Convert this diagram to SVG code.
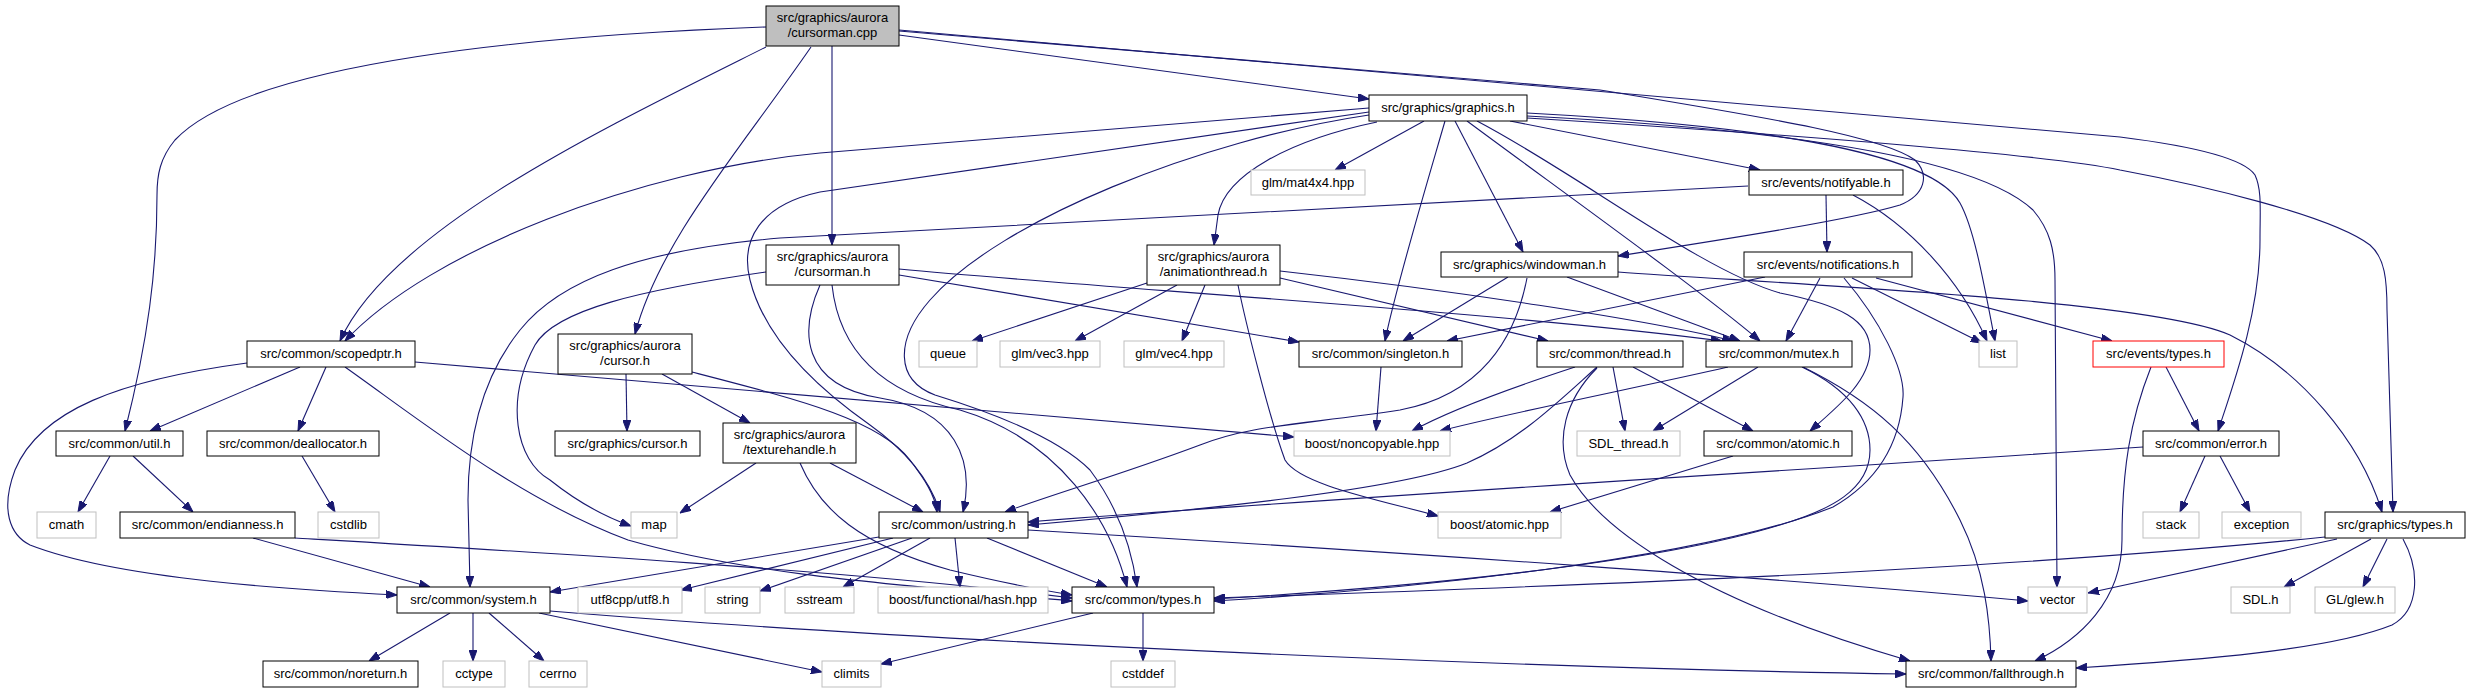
<svg xmlns="http://www.w3.org/2000/svg" width="2471" height="693" viewBox="0 0 2471 693">
<style>
.e{fill:none;stroke:#191970;stroke-width:1.1;marker-end:url(#ah)}
rect{fill:#ffffff;stroke:#000000;stroke-width:1}
.x rect{stroke:#bfbfbf}
.r rect{fill:#bfbfbf;stroke:#000000}
.t rect{stroke:#ff0000}
text{font-family:"Liberation Sans",Arial,Helvetica,sans-serif;font-size:13px;text-anchor:middle;fill:#000000}
</style>
<defs>
<marker id="ah" markerWidth="11" markerHeight="8" refX="11" refY="4" orient="auto" markerUnits="userSpaceOnUse">
<path d="M0,0 L11,4 L0,8 z" fill="#191970" stroke="#191970" stroke-width="1"/>
</marker>
</defs>
<rect x="0" y="0" width="2471" height="693" style="fill:#ffffff;stroke:none"/>
<g id="edges">
<path class="e" d="M766,27 C550,35 250,60 175,140 C160,158 157,175 157,195 C157,270 148,340 125,431"/>
<path class="e" d="M766,47 C600,130 390,230 340,341"/>
<path class="e" d="M811,47 C740,150 660,240 635,334"/>
<path class="e" d="M832,46 L832,245"/>
<path class="e" d="M899,35 L1369,99"/>
<path class="e" d="M899,30 L2120,137 C2200,147 2245,160 2255,175 C2262,190 2260,210 2260,240 C2260,310 2235,380 2218,431"/>
<path class="e" d="M899,31 L1600,90 C1750,115 1880,135 1915,160 C1930,175 1925,195 1900,205 C1850,220 1720,240 1618,256"/>
<path class="e" d="M1369,108 L820,153 C640,170 430,250 345,341"/>
<path class="e" d="M1369,112 L820,192 C760,205 740,240 750,280 C765,340 820,390 870,425 C905,450 930,480 940,512"/>
<path class="e" d="M1369,115 C1200,140 1000,220 930,300 C895,340 895,380 935,395 C1000,415 1060,440 1090,470 C1120,510 1132,550 1137,587"/>
<path class="e" d="M1424,121 L1335,170"/>
<path class="e" d="M1445,121 C1425,190 1395,290 1385,341"/>
<path class="e" d="M1455,121 L1523,252"/>
<path class="e" d="M1467,121 C1560,190 1700,290 1760,341"/>
<path class="e" d="M1477,121 C1580,175 1700,270 1780,293 C1840,305 1870,320 1870,350 C1870,380 1840,405 1810,431"/>
<path class="e" d="M1510,121 L1760,170"/>
<path class="e" d="M1527,113 C1750,125 1930,150 1960,203 C1975,230 1985,290 1995,341"/>
<path class="e" d="M1527,116 C1800,130 1980,160 2033,210 C2050,230 2055,250 2055,280 L2057,587"/>
<path class="e" d="M1527,118 C1800,135 2050,155 2120,170 C2200,185 2330,215 2370,245 C2385,258 2387,280 2387,310 L2393,512"/>
<path class="e" d="M1377,122 C1290,140 1225,175 1218,215 L1214,245"/>
<path class="e" d="M766,272 C640,290 555,310 535,345 C505,400 515,460 550,480 C575,500 600,515 631,526"/>
<path class="e" d="M820,285 C800,330 800,385 880,398 C955,410 975,460 963,512"/>
<path class="e" d="M832,285 C838,340 870,390 960,410 C1060,440 1110,520 1127,587"/>
<path class="e" d="M899,275 L1299,342"/>
<path class="e" d="M899,269 C1100,288 1500,312 1722,341"/>
<path class="e" d="M1147,283 L972,341"/>
<path class="e" d="M1177,285 L1075,341"/>
<path class="e" d="M1205,285 L1182,341"/>
<path class="e" d="M1238,285 C1245,320 1270,420 1285,460 C1300,485 1380,500 1438,516"/>
<path class="e" d="M1280,271 C1450,290 1650,320 1733,341"/>
<path class="e" d="M1280,278 L1548,341"/>
<path class="e" d="M1508,277 L1403,341"/>
<path class="e" d="M1527,278 C1515,340 1480,395 1400,410 C1300,425 1250,425 1200,445 C1120,475 1050,495 1005,512"/>
<path class="e" d="M1567,277 L1740,341"/>
<path class="e" d="M1618,272 C1800,285 2150,300 2230,335 C2300,370 2360,440 2382,512"/>
<path class="e" d="M1748,186 L780,238 C640,250 560,280 520,330 C480,380 468,440 468,500 L470,587"/>
<path class="e" d="M1826,195 L1827,252"/>
<path class="e" d="M1853,195 C1910,225 1960,280 1987,341"/>
<path class="e" d="M1765,277 L1447,341"/>
<path class="e" d="M1820,278 L1786,341"/>
<path class="e" d="M1844,278 C1880,320 1905,370 1903,397 C1900,440 1880,480 1833,507 C1700,560 1400,590 1214,601"/>
<path class="e" d="M1852,278 L1982,343"/>
<path class="e" d="M1876,278 L2112,341"/>
<path class="e" d="M2166,367 L2199,431"/>
<path class="e" d="M2151,367 C2130,420 2122,470 2122,540 C2122,600 2080,640 2035,661"/>
<path class="e" d="M2205,456 L2180,512"/>
<path class="e" d="M2220,456 L2250,512"/>
<path class="e" d="M2143,447 C1800,470 1300,500 1028,522"/>
<path class="e" d="M2325,537 C2000,570 1600,585 1214,598"/>
<path class="e" d="M2337,539 L2088,593"/>
<path class="e" d="M2371,539 L2284,587"/>
<path class="e" d="M2387,539 L2363,587"/>
<path class="e" d="M2403,539 C2420,570 2420,610 2392,625 C2330,650 2200,660 2076,668"/>
<path class="e" d="M1381,367 L1376,431"/>
<path class="e" d="M1575,367 C1520,385 1450,410 1412,431"/>
<path class="e" d="M1597,367 C1560,400 1520,440 1467,463 C1400,490 1200,510 1028,525"/>
<path class="e" d="M1597,368 C1565,400 1555,440 1570,475 C1600,530 1700,600 1910,661"/>
<path class="e" d="M1613,367 L1625,431"/>
<path class="e" d="M1633,367 L1753,431"/>
<path class="e" d="M1728,367 C1650,385 1500,415 1440,431"/>
<path class="e" d="M1758,367 L1653,431"/>
<path class="e" d="M1802,367 C1850,390 1870,420 1870,450 C1870,490 1830,510 1780,525 C1650,565 1400,588 1214,599"/>
<path class="e" d="M1803,367 C1870,400 1920,440 1960,520 C1985,570 1990,620 1991,661"/>
<path class="e" d="M1733,456 L1550,512"/>
<path class="e" d="M247,363 C120,380 40,410 15,470 C0,510 10,535 30,545 C120,580 300,590 397,595"/>
<path class="e" d="M300,367 L150,431"/>
<path class="e" d="M326,367 L298,431"/>
<path class="e" d="M345,367 C420,420 520,500 628,540 C750,575 900,585 1072,601"/>
<path class="e" d="M415,362 L1294,437"/>
<path class="e" d="M626,374 L627,431"/>
<path class="e" d="M662,374 L750,423"/>
<path class="e" d="M692,372 C800,400 880,420 910,460 C925,480 935,495 937,512"/>
<path class="e" d="M756,463 L680,513"/>
<path class="e" d="M830,463 L923,512"/>
<path class="e" d="M800,463 C820,510 860,545 950,570 C1000,582 1040,590 1072,595"/>
<path class="e" d="M110,456 L78,512"/>
<path class="e" d="M133,456 L193,512"/>
<path class="e" d="M302,456 L335,512"/>
<path class="e" d="M253,538 L430,587"/>
<path class="e" d="M295,538 C500,550 850,570 1072,598"/>
<path class="e" d="M879,537 L550,592"/>
<path class="e" d="M893,538 L681,590"/>
<path class="e" d="M912,538 L760,591"/>
<path class="e" d="M930,538 L843,587"/>
<path class="e" d="M955,538 L960,587"/>
<path class="e" d="M987,538 L1107,587"/>
<path class="e" d="M1028,530 C1400,552 1800,580 2028,601"/>
<path class="e" d="M450,613 L369,661"/>
<path class="e" d="M473,613 L473,661"/>
<path class="e" d="M489,613 L544,661"/>
<path class="e" d="M539,613 L822,672"/>
<path class="e" d="M550,611 C900,640 1500,668 1906,674"/>
<path class="e" d="M1093,613 L881,664"/>
<path class="e" d="M1143,613 L1143,661"/>
</g>
<g id="node-root" class="r"><rect x="766" y="6" width="133" height="40"/><text x="832.5" y="21.5">src/graphics/aurora</text><text x="832.5" y="36.5">/cursorman.cpp</text></g>
<g id="node-graphics"><rect x="1369" y="95" width="158" height="26"/><text x="1448" y="112">src/graphics/graphics.h</text></g>
<g id="node-mat4x4" class="x"><rect x="1251" y="170" width="114" height="25"/><text x="1308" y="186.5">glm/mat4x4.hpp</text></g>
<g id="node-cursorman-h"><rect x="766" y="245" width="133" height="40"/><text x="832.5" y="260.5">src/graphics/aurora</text><text x="832.5" y="275.5">/cursorman.h</text></g>
<g id="node-animationthread"><rect x="1147" y="245" width="133" height="40"/><text x="1213.5" y="260.5">src/graphics/aurora</text><text x="1213.5" y="275.5">/animationthread.h</text></g>
<g id="node-windowman"><rect x="1441" y="252" width="177" height="25"/><text x="1529.5" y="268.5">src/graphics/windowman.h</text></g>
<g id="node-notifyable"><rect x="1749" y="170" width="154" height="25"/><text x="1826" y="186.5">src/events/notifyable.h</text></g>
<g id="node-notifications"><rect x="1744" y="252" width="168" height="25"/><text x="1828" y="268.5">src/events/notifications.h</text></g>
<g id="node-scopedptr"><rect x="247" y="341" width="168" height="26"/><text x="331" y="358">src/common/scopedptr.h</text></g>
<g id="node-aurora-cursor"><rect x="558" y="334" width="134" height="40"/><text x="625" y="349.5">src/graphics/aurora</text><text x="625" y="364.5">/cursor.h</text></g>
<g id="node-queue" class="x"><rect x="919" y="341" width="58" height="26"/><text x="948" y="358">queue</text></g>
<g id="node-vec3" class="x"><rect x="1000" y="341" width="100" height="26"/><text x="1050" y="358">glm/vec3.hpp</text></g>
<g id="node-vec4" class="x"><rect x="1124" y="341" width="100" height="26"/><text x="1174" y="358">glm/vec4.hpp</text></g>
<g id="node-singleton"><rect x="1299" y="341" width="163" height="26"/><text x="1380.5" y="358">src/common/singleton.h</text></g>
<g id="node-thread"><rect x="1537" y="341" width="146" height="26"/><text x="1610" y="358">src/common/thread.h</text></g>
<g id="node-mutex"><rect x="1706" y="341" width="146" height="26"/><text x="1779" y="358">src/common/mutex.h</text></g>
<g id="node-list" class="x"><rect x="1979" y="341" width="38" height="26"/><text x="1998" y="358">list</text></g>
<g id="node-events-types" class="t"><rect x="2093" y="341" width="131" height="26"/><text x="2158.5" y="358">src/events/types.h</text></g>
<g id="node-util"><rect x="56" y="431" width="127" height="25"/><text x="119.5" y="447.5">src/common/util.h</text></g>
<g id="node-deallocator"><rect x="207" y="431" width="172" height="25"/><text x="293" y="447.5">src/common/deallocator.h</text></g>
<g id="node-graphics-cursor"><rect x="555" y="431" width="145" height="25"/><text x="627.5" y="447.5">src/graphics/cursor.h</text></g>
<g id="node-texturehandle"><rect x="723" y="423" width="133" height="40"/><text x="789.5" y="438.5">src/graphics/aurora</text><text x="789.5" y="453.5">/texturehandle.h</text></g>
<g id="node-noncopyable" class="x"><rect x="1294" y="431" width="156" height="25"/><text x="1372" y="447.5">boost/noncopyable.hpp</text></g>
<g id="node-sdl-thread" class="x"><rect x="1577" y="431" width="103" height="25"/><text x="1628.5" y="447.5">SDL_thread.h</text></g>
<g id="node-atomic"><rect x="1704" y="431" width="148" height="25"/><text x="1778" y="447.5">src/common/atomic.h</text></g>
<g id="node-error"><rect x="2143" y="431" width="136" height="25"/><text x="2211" y="447.5">src/common/error.h</text></g>
<g id="node-cmath" class="x"><rect x="37" y="512" width="59" height="26"/><text x="66.5" y="529">cmath</text></g>
<g id="node-endianness"><rect x="120" y="512" width="175" height="26"/><text x="207.5" y="529">src/common/endianness.h</text></g>
<g id="node-cstdlib" class="x"><rect x="318" y="512" width="61" height="26"/><text x="348.5" y="529">cstdlib</text></g>
<g id="node-map" class="x"><rect x="631" y="512" width="46" height="26"/><text x="654" y="529">map</text></g>
<g id="node-ustring"><rect x="879" y="512" width="149" height="26"/><text x="953.5" y="529">src/common/ustring.h</text></g>
<g id="node-boost-atomic" class="x"><rect x="1438" y="512" width="123" height="26"/><text x="1499.5" y="529">boost/atomic.hpp</text></g>
<g id="node-stack" class="x"><rect x="2143" y="512" width="56" height="26"/><text x="2171" y="529">stack</text></g>
<g id="node-exception" class="x"><rect x="2222" y="512" width="79" height="26"/><text x="2261.5" y="529">exception</text></g>
<g id="node-graphics-types"><rect x="2325" y="512" width="140" height="26"/><text x="2395" y="529">src/graphics/types.h</text></g>
<g id="node-system"><rect x="397" y="587" width="153" height="26"/><text x="473.5" y="604">src/common/system.h</text></g>
<g id="node-utf8" class="x"><rect x="578" y="587" width="104" height="26"/><text x="630" y="604">utf8cpp/utf8.h</text></g>
<g id="node-string" class="x"><rect x="705" y="587" width="55" height="26"/><text x="732.5" y="604">string</text></g>
<g id="node-sstream" class="x"><rect x="785" y="587" width="69" height="26"/><text x="819.5" y="604">sstream</text></g>
<g id="node-hash" class="x"><rect x="878" y="587" width="170" height="26"/><text x="963" y="604">boost/functional/hash.hpp</text></g>
<g id="node-types"><rect x="1072" y="587" width="142" height="26"/><text x="1143" y="604">src/common/types.h</text></g>
<g id="node-vector" class="x"><rect x="2028" y="587" width="59" height="26"/><text x="2057.5" y="604">vector</text></g>
<g id="node-sdl" class="x"><rect x="2231" y="587" width="59" height="26"/><text x="2260.5" y="604">SDL.h</text></g>
<g id="node-glew" class="x"><rect x="2315" y="587" width="80" height="26"/><text x="2355" y="604">GL/glew.h</text></g>
<g id="node-noreturn"><rect x="263" y="661" width="155" height="26"/><text x="340.5" y="678">src/common/noreturn.h</text></g>
<g id="node-cctype" class="x"><rect x="443" y="661" width="62" height="26"/><text x="474" y="678">cctype</text></g>
<g id="node-cerrno" class="x"><rect x="529" y="661" width="58" height="26"/><text x="558" y="678">cerrno</text></g>
<g id="node-climits" class="x"><rect x="822" y="661" width="59" height="26"/><text x="851.5" y="678">climits</text></g>
<g id="node-cstddef" class="x"><rect x="1111" y="661" width="64" height="26"/><text x="1143" y="678">cstddef</text></g>
<g id="node-fallthrough"><rect x="1906" y="661" width="170" height="26"/><text x="1991" y="678">src/common/fallthrough.h</text></g>
</svg>
